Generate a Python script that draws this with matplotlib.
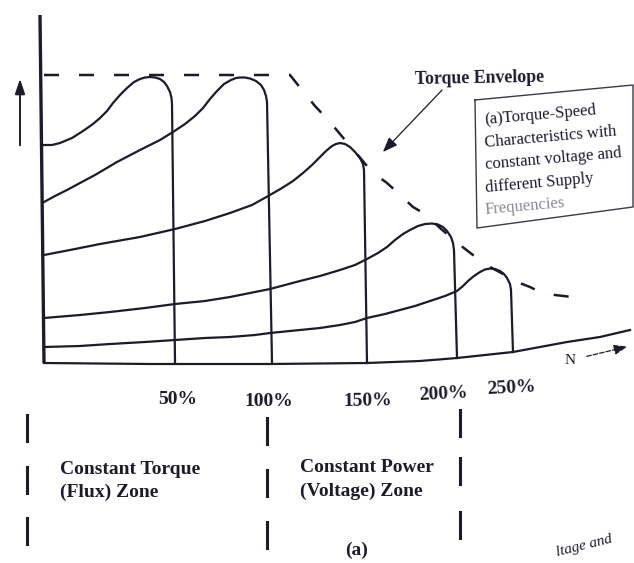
import matplotlib.pyplot as plt

# all values, in picture pixels (y grows downwards)
ink = '#1b1b2a'

axis_y_x = [40, 44]
axis_y_y = [15, 363]

base_x = [44, 150, 270, 367, 420, 457, 513, 567, 600, 630]
base_y = [363, 364, 364, 363, 361, 358, 352, 342, 337, 330]

curve_50_x = [44, 52, 60, 72, 83, 93, 100, 107, 113, 120, 127, 134, 140, 145, 150,
              155, 160, 164, 167, 170, 171.5, 172, 175]
curve_50_y = [145, 145, 143, 138, 131, 124, 118, 111, 103, 95, 88, 82, 79, 77.5, 77,
              77.5, 79, 82, 86, 92, 98, 104, 362]

curve_100_x = [44, 55, 67, 80, 95, 117, 140, 160, 173, 185, 195, 203, 210, 217, 224,
               231, 236, 240, 245, 250, 256, 261, 264, 266, 267, 272]
curve_100_y = [202, 196, 190, 183, 175, 162, 150, 140, 132, 124, 116, 108, 99, 91, 84,
               80, 78, 77.5, 77.5, 78.5, 81, 85, 90, 96, 102, 362]

curve_150_x = [44, 70, 100, 140, 175, 205, 230, 252, 270, 282, 293, 303, 312, 320, 326,
               332, 336, 340, 345, 350, 355, 360, 363, 364, 367]
curve_150_y = [255, 250, 244, 237, 229, 221, 213, 205, 195, 188, 181, 173, 165, 157, 151,
               146, 144, 143, 144, 147, 152, 158, 164, 170, 363]

curve_200_x = [44, 80, 110, 145, 175, 205, 230, 255, 270, 300, 320, 340, 355, 367, 378,
               387, 395, 403, 410, 418, 425, 432, 438, 443, 447, 451, 453, 454, 457]
curve_200_y = [318, 315, 312, 308, 304, 301, 297, 292, 289, 281, 276, 270, 265, 259, 253,
               247, 240, 234, 230, 226, 224, 223.5, 224.5, 227, 231, 237, 243, 250, 358]

curve_250_x = [44, 80, 110, 145, 175, 205, 230, 255, 270, 300, 320, 340, 355, 367, 385,
               400, 415, 430, 445, 457, 463, 468, 474, 480, 485, 490, 495, 500, 504, 507,
               510, 511, 513]
curve_250_y = [347, 346, 344, 342, 340, 338, 337, 335, 333, 330, 328, 325, 322, 318, 314,
               310, 306, 301, 296, 291, 286, 281, 276, 272, 269.5, 268.5, 269, 271, 274, 278,
               284, 290, 352]

envelope_x = [44, 290, 302, 315, 330, 345, 362, 372, 387, 398, 413, 425, 440, 460,
              473, 490, 505, 517, 530, 542, 555, 572, 585]
envelope_y = [75, 75, 90, 106, 122, 140, 160, 172, 183, 193, 207, 214, 228, 245,
              255, 267, 275, 282, 287, 293, 295, 297, 297]

pct_labels = ['50%', '100%', '150%', '200%', '250%']
pct_x = [178, 269, 368, 443, 511]
pct_y = [400, 402, 401, 394, 388]
pct_rot = [0, 0, 1, 3, 3]

zone_bar_x = [27, 267, 460]
zone_bar_top = [[415, 467, 518], [418, 470, 522], [410, 458, 512]]
zone_bar_len = 26

box_text = ['(a)Torque-Speed', 'Characteristics with', 'constant voltage and',
            'different Supply', 'Frequencies']
box_text_y = [120, 143, 165, 188, 210]
box_corner_x = [475, 633, 633, 477, 475]
box_corner_y = [100, 85, 207, 228, 100]

fig = plt.figure(figsize=(6.34, 5.63), dpi=100)
ax = fig.add_axes([0, 0, 1, 1])
ax.set_xlim(0, 634)
ax.set_ylim(563, 0)
ax.axis('off')

ax.plot(axis_y_x, axis_y_y, color=ink, lw=2.4, solid_capstyle='butt')
ax.plot(base_x, base_y, color=ink, lw=1.6)
for cx, cy in [(curve_50_x, curve_50_y), (curve_100_x, curve_100_y),
               (curve_150_x, curve_150_y), (curve_200_x, curve_200_y),
               (curve_250_x, curve_250_y)]:
    ax.plot(cx, cy, color=ink, lw=1.6, solid_joinstyle='round')

ax.plot(envelope_x, envelope_y, color=ink, lw=1.8, linestyle=(0, (6, 8)))

serif = 'Liberation Serif'

# torque envelope label + arrow
ax.text(415, 78, 'Torque Envelope', fontsize=12.8, fontweight='bold', family=serif,
        color=ink, va='center', ha='left', rotation=1)
ax.annotate('', xy=(381, 154), xytext=(444, 88),
            arrowprops=dict(arrowstyle='-|>,head_length=0.9,head_width=0.35',
                            color=ink, lw=0.9))

# speed axis arrow
ax.text(570, 360, 'N', fontsize=11, family=serif, color=ink, va='center', ha='center')
ax.annotate('', xy=(630, 346), xytext=(584, 357),
            arrowprops=dict(arrowstyle='-|>,head_length=0.8,head_width=0.3',
                            color=ink, lw=0.9, linestyle='--'))

# torque axis arrow
ax.annotate('', xy=(20, 76), xytext=(20, 148),
            arrowprops=dict(arrowstyle='-|>,head_length=0.9,head_width=0.3',
                            color=ink, lw=1.4))

# description box
ax.plot(box_corner_x, box_corner_y, color='#3a3a48', lw=1.0)
for i, (t, ty) in enumerate(zip(box_text, box_text_y)):
    ax.text(485, ty, t, fontsize=12, family=serif,
            color='#8a8a92' if i == 4 else ink,
            rotation=5, rotation_mode='anchor', ha='left', va='center')

for lab, lx, ly, r in zip(pct_labels, pct_x, pct_y, pct_rot):
    ax.text(lx, ly, lab, fontsize=14, fontweight='bold', family=serif, color=ink,
            ha='center', va='center', rotation=r)

for bx, tops in zip(zone_bar_x, zone_bar_top):
    for t in tops:
        ax.plot([bx, bx], [t, t + zone_bar_len], color=ink, lw=2.2)

zone_font = dict(fontsize=14, fontweight='bold', family=serif, color=ink, va='center')
ax.text(60, 470, 'Constant Torque', ha='left', **zone_font)
ax.text(60, 492, '(Flux) Zone', ha='left', **zone_font)
ax.text(300, 468, 'Constant Power', ha='left', **zone_font)
ax.text(300, 491, '(Voltage) Zone', ha='left', **zone_font)
ax.text(357, 550, '(a)', ha='center', **zone_font)
ax.text(556, 553, 'ltage and', fontsize=11, family=serif, style='italic',
        color=ink, ha='left', va='center', rotation=14, rotation_mode='anchor')

fig.savefig('out.png', dpi=100)
